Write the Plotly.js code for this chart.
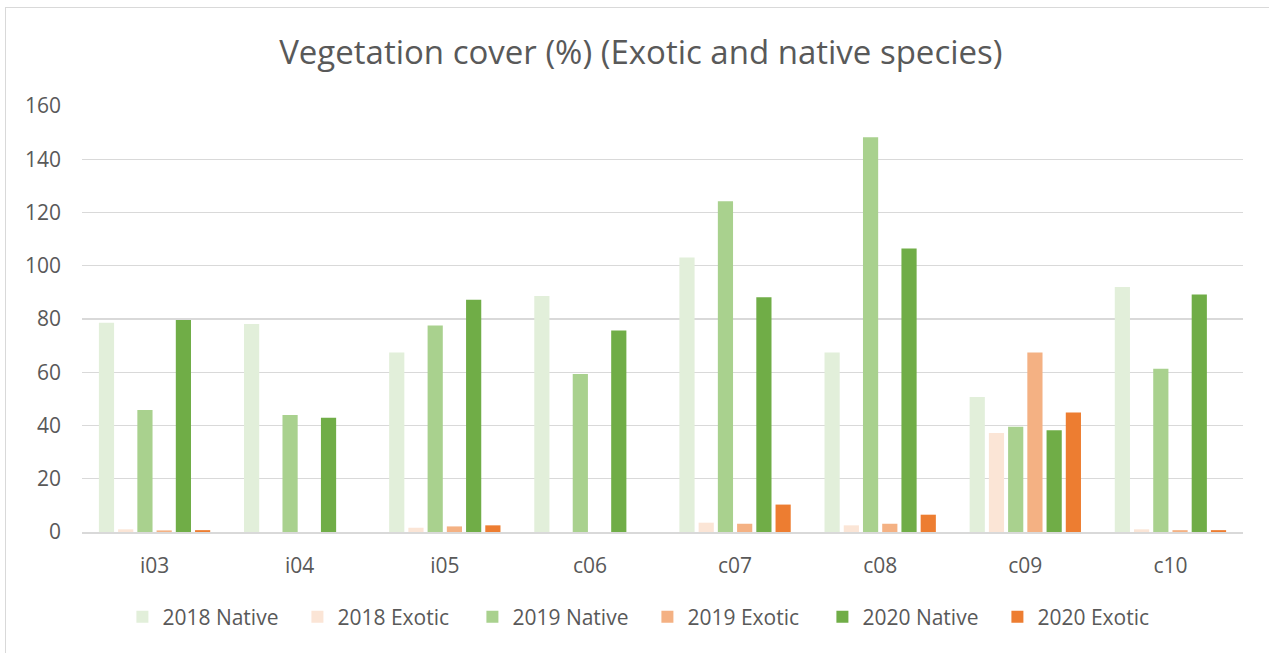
<!DOCTYPE html>
<html>
<head>
<meta charset="utf-8">
<script src="https://cdn.plot.ly/plotly-3.0.1.min.js"></script>
<style>
  html, body { margin: 0; padding: 0; background: #ffffff; overflow: hidden; }
  #chart { position: absolute; left: 0; top: 0; width: 1269px; height: 653px; }
  #frame { position: absolute; left: 5px; top: 7px; width: 1300px; height: 700px;
           border: 1.5px solid #d9d9d9; pointer-events: none; }
</style>
</head>
<body>
<div id="chart"></div>
<div id="frame"></div>
<script>
// Sites along the x axis
const sites = ['i03', 'i04', 'i05', 'c06', 'c07', 'c08', 'c09', 'c10'];

// Vegetation cover (%) per site, by year and species origin
const native2018 = [78.6, 78.1, 67.4, 88.6, 103.1, 67.4, 50.7, 92.0];
const exotic2018 = [1.0, 0, 1.6, 0, 3.5, 2.5, 37.2, 1.0];
const native2019 = [45.8, 43.9, 77.6, 59.3, 124.2, 148.3, 39.5, 61.3];
const exotic2019 = [0.6, 0, 2.1, 0, 3.1, 3.1, 67.4, 0.7];
const native2020 = [79.6, 42.9, 87.2, 75.7, 88.2, 106.5, 38.2, 89.2];
const exotic2020 = [0.7, 0, 2.5, 0, 10.3, 6.5, 44.9, 0.7];

const seriesNames = ['2018 Native', '2018 Exotic', '2019 Native', '2019 Exotic', '2020 Native', '2020 Exotic'];
const seriesValues = [native2018, exotic2018, native2019, exotic2019, native2020, exotic2020];
const seriesColors = ['#E2EFDA', '#FBE5D6', '#A9D18E', '#F4B183', '#70AD47', '#ED7D31'];

const textColor = '#595959';
const fontFamily = '"Open Sans", Lato, sans-serif';

const traces = seriesNames.map((name, i) => ({
  type: 'bar',
  name: name,
  x: sites,
  y: seriesValues[i],
  marker: { color: seriesColors[i], line: { width: 0 } },
  hoverinfo: 'x+y+name'
}));

const layout = {
  width: 1269,
  height: 653,
  paper_bgcolor: 'rgba(0,0,0,0)',
  plot_bgcolor: '#ffffff',
  margin: { l: 82, r: 26, t: 106, b: 121 },
  barmode: 'group',
  bargap: 0.205,
  bargroupgap: 0.21,
  font: { family: fontFamily, color: textColor, size: 21 },
  title: {
    text: 'Vegetation cover (%) (Exotic and native species)',
    font: { family: fontFamily, size: 33, color: textColor },
    x: 0.505, xanchor: 'center',
    y: 1 - 52 / 653, yanchor: 'middle', yref: 'container'
  },
  xaxis: {
    type: 'category',
    showgrid: false,
    showline: true,
    linecolor: '#d9d9d9',
    linewidth: 1.5,
    ticks: '',
    ticklabelstandoff: 14,
    tickfont: { size: 21, color: textColor }
  },
  yaxis: {
    range: [0, 160],
    dtick: 20,
    showgrid: true,
    gridcolor: '#d9d9d9',
    gridwidth: 1.3,
    zeroline: false,
    showline: false,
    ticks: '',
    ticklabelstandoff: 20,
    tickfont: { size: 21, color: textColor }
  },
  showlegend: true,
  legend: {
    orientation: 'h',
    x: 0.487, xanchor: 'center',
    y: -0.2, yanchor: 'middle',
    entrywidth: 130,
    itemwidth: 30,
    font: { size: 21, color: textColor },
    traceorder: 'normal'
  }
};

Plotly.newPlot('chart', traces, layout, { displayModeBar: false, staticPlot: true });
</script>
</body>
</html>
